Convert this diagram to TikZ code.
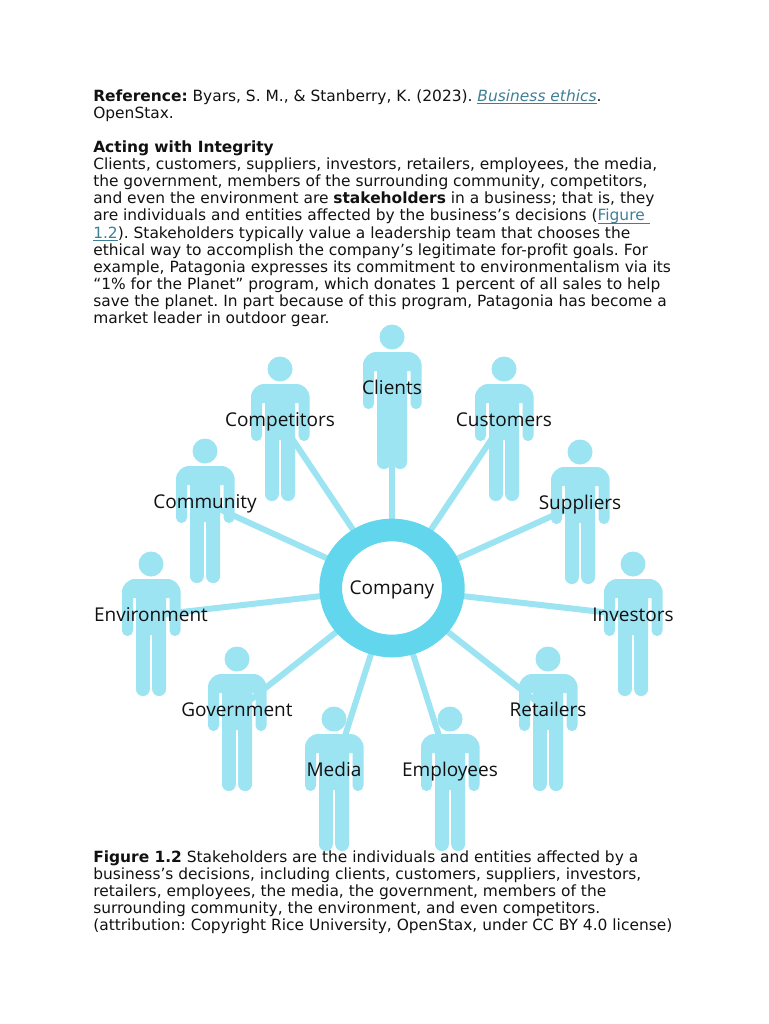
\documentclass[tikz,border=0pt]{standalone}
\usepackage{xcolor}
\usepackage{fontspec}
\setmainfont{DejaVu Sans}
\newfontfamily\labelfont{Open Sans}
\usetikzlibrary{positioning,shapes.geometric,backgrounds}
\definecolor{skBody}{HTML}{9DE4F2}
\definecolor{skRing}{HTML}{62D6EC}
\definecolor{skLink}{HTML}{3F7F96}
\definecolor{skInk}{HTML}{111111}
\newcommand{\doclink}[1]{\textcolor{skLink}{\underline{\smash{#1}}}}
\frenchspacing

\begin{document}
\begin{tikzpicture}[
  x=0.75pt, y=-0.75pt,
  para/.style={anchor=north west, inner sep=0pt, align=left, text=skInk,
               font=\frenchspacing\fontsize{11.58pt}{12.8pt}\selectfont},
  lbl/.style={inner sep=0pt, text=skInk, text height=12pt, text depth=3pt,
              font=\labelfont\fontsize{14.25pt}{16pt}\selectfont},
  ring/.style={draw=skRing, line width=17pt, fill=white, ellipse,
               minimum width=92pt, minimum height=87pt},
  spoke/.style={skBody, line width=4.5pt},
  person/.pic={
    \fill[skBody] (0,0) circle (12.5);
    \fill[skBody, rounded corners=10pt] (-29,40) -- (-29,15) -- (29.5,15) -- (29.5,40)
      [rounded corners=4pt] -- (29.5,72) -- (18.5,72) [sharp corners] -- (18.5,34) -- (15,34)
      [rounded corners=5pt] -- (15,132) -- (1.2,132) [sharp corners] -- (1.2,71) -- (-1.2,71)
      [rounded corners=5pt] -- (-1.2,132) -- (-15,132) [sharp corners] -- (-15,34) -- (-18,34)
      [rounded corners=4pt] -- (-18,72) -- (-29,72) -- cycle;
    \node[lbl] (-name) at (0,51.5) {#1};
  }
]
\useasboundingbox (0,0) rectangle (768,1024);

\node[para] (intro) at (93,89.5) {%
  \textbf{Reference:} Byars, S. M., \& Stanberry, K. (2023). \doclink{\itshape Business ethics}.\\
  OpenStax.\\
  \mbox{}\\
  \textbf{Acting with Integrity}\\
  Clients, customers, suppliers, investors, retailers, employees, the media,\\
  the government, members of the surrounding community, competitors,\\
  and even the environment are \textbf{stakeholders} in a business; that is, they\\
  are individuals and entities affected by the business’s decisions (\doclink{Figure\ }\\
  \doclink{1.2}). Stakeholders typically value a leadership team that chooses the\\
  ethical way to accomplish the company’s legitimate for-profit goals. For\\
  example, Patagonia expresses its commitment to environmentalism via its\\
  “1\% for the Planet” program, which donates 1 percent of all sales to help\\
  save the planet. In part because of this program, Patagonia has become a\\
  market leader in outdoor gear.};

\node[ring, lbl] (company) at (392,588) {Company};

\pic (clients) at (392,337) {person=Clients};
\pic (competitors) at (280,369) {person=Competitors};
\pic (customers) at (504,369) {person=Customers};
\pic (community) at (205,451) {person=Community};
\pic (suppliers) at (580,452) {person=Suppliers};
\pic (environment) at (151,564) {person=Environment};
\pic (investors) at (633,564) {person=Investors};
\pic (government) at (237,659) {person=Government};
\pic (retailers) at (548,659) {person=Retailers};
\pic (media) at (334,719) {person=Media};
\pic (employees) at (450,719) {person=Employees};

\begin{pgfonlayer}{background}
\draw[spoke] (company.center) -- (clients-name.center);
\draw[spoke] (company.center) -- (competitors-name.center);
\draw[spoke] (company.center) -- (customers-name.center);
\draw[spoke] (company.center) -- (community-name.center);
\draw[spoke] (company.center) -- (suppliers-name.center);
\draw[spoke] (company.center) -- (environment-name.center);
\draw[spoke] (company.center) -- (investors-name.center);
\draw[spoke] (company.center) -- (government-name.center);
\draw[spoke] (company.center) -- (retailers-name.center);
\draw[spoke] (company.center) -- (media-name.center);
\draw[spoke] (company.center) -- (employees-name.center);
\end{pgfonlayer}

\node[para] (caption) at (93,850.5) {%
  \textbf{Figure 1.2} Stakeholders are the individuals and entities affected by a\\
  business’s decisions, including clients, customers, suppliers, investors,\\
  retailers, employees, the media, the government, members of the\\
  surrounding community, the environment, and even competitors.\\
  (attribution: Copyright Rice University, OpenStax, under CC BY 4.0 license)};

\end{tikzpicture}
\end{document}
